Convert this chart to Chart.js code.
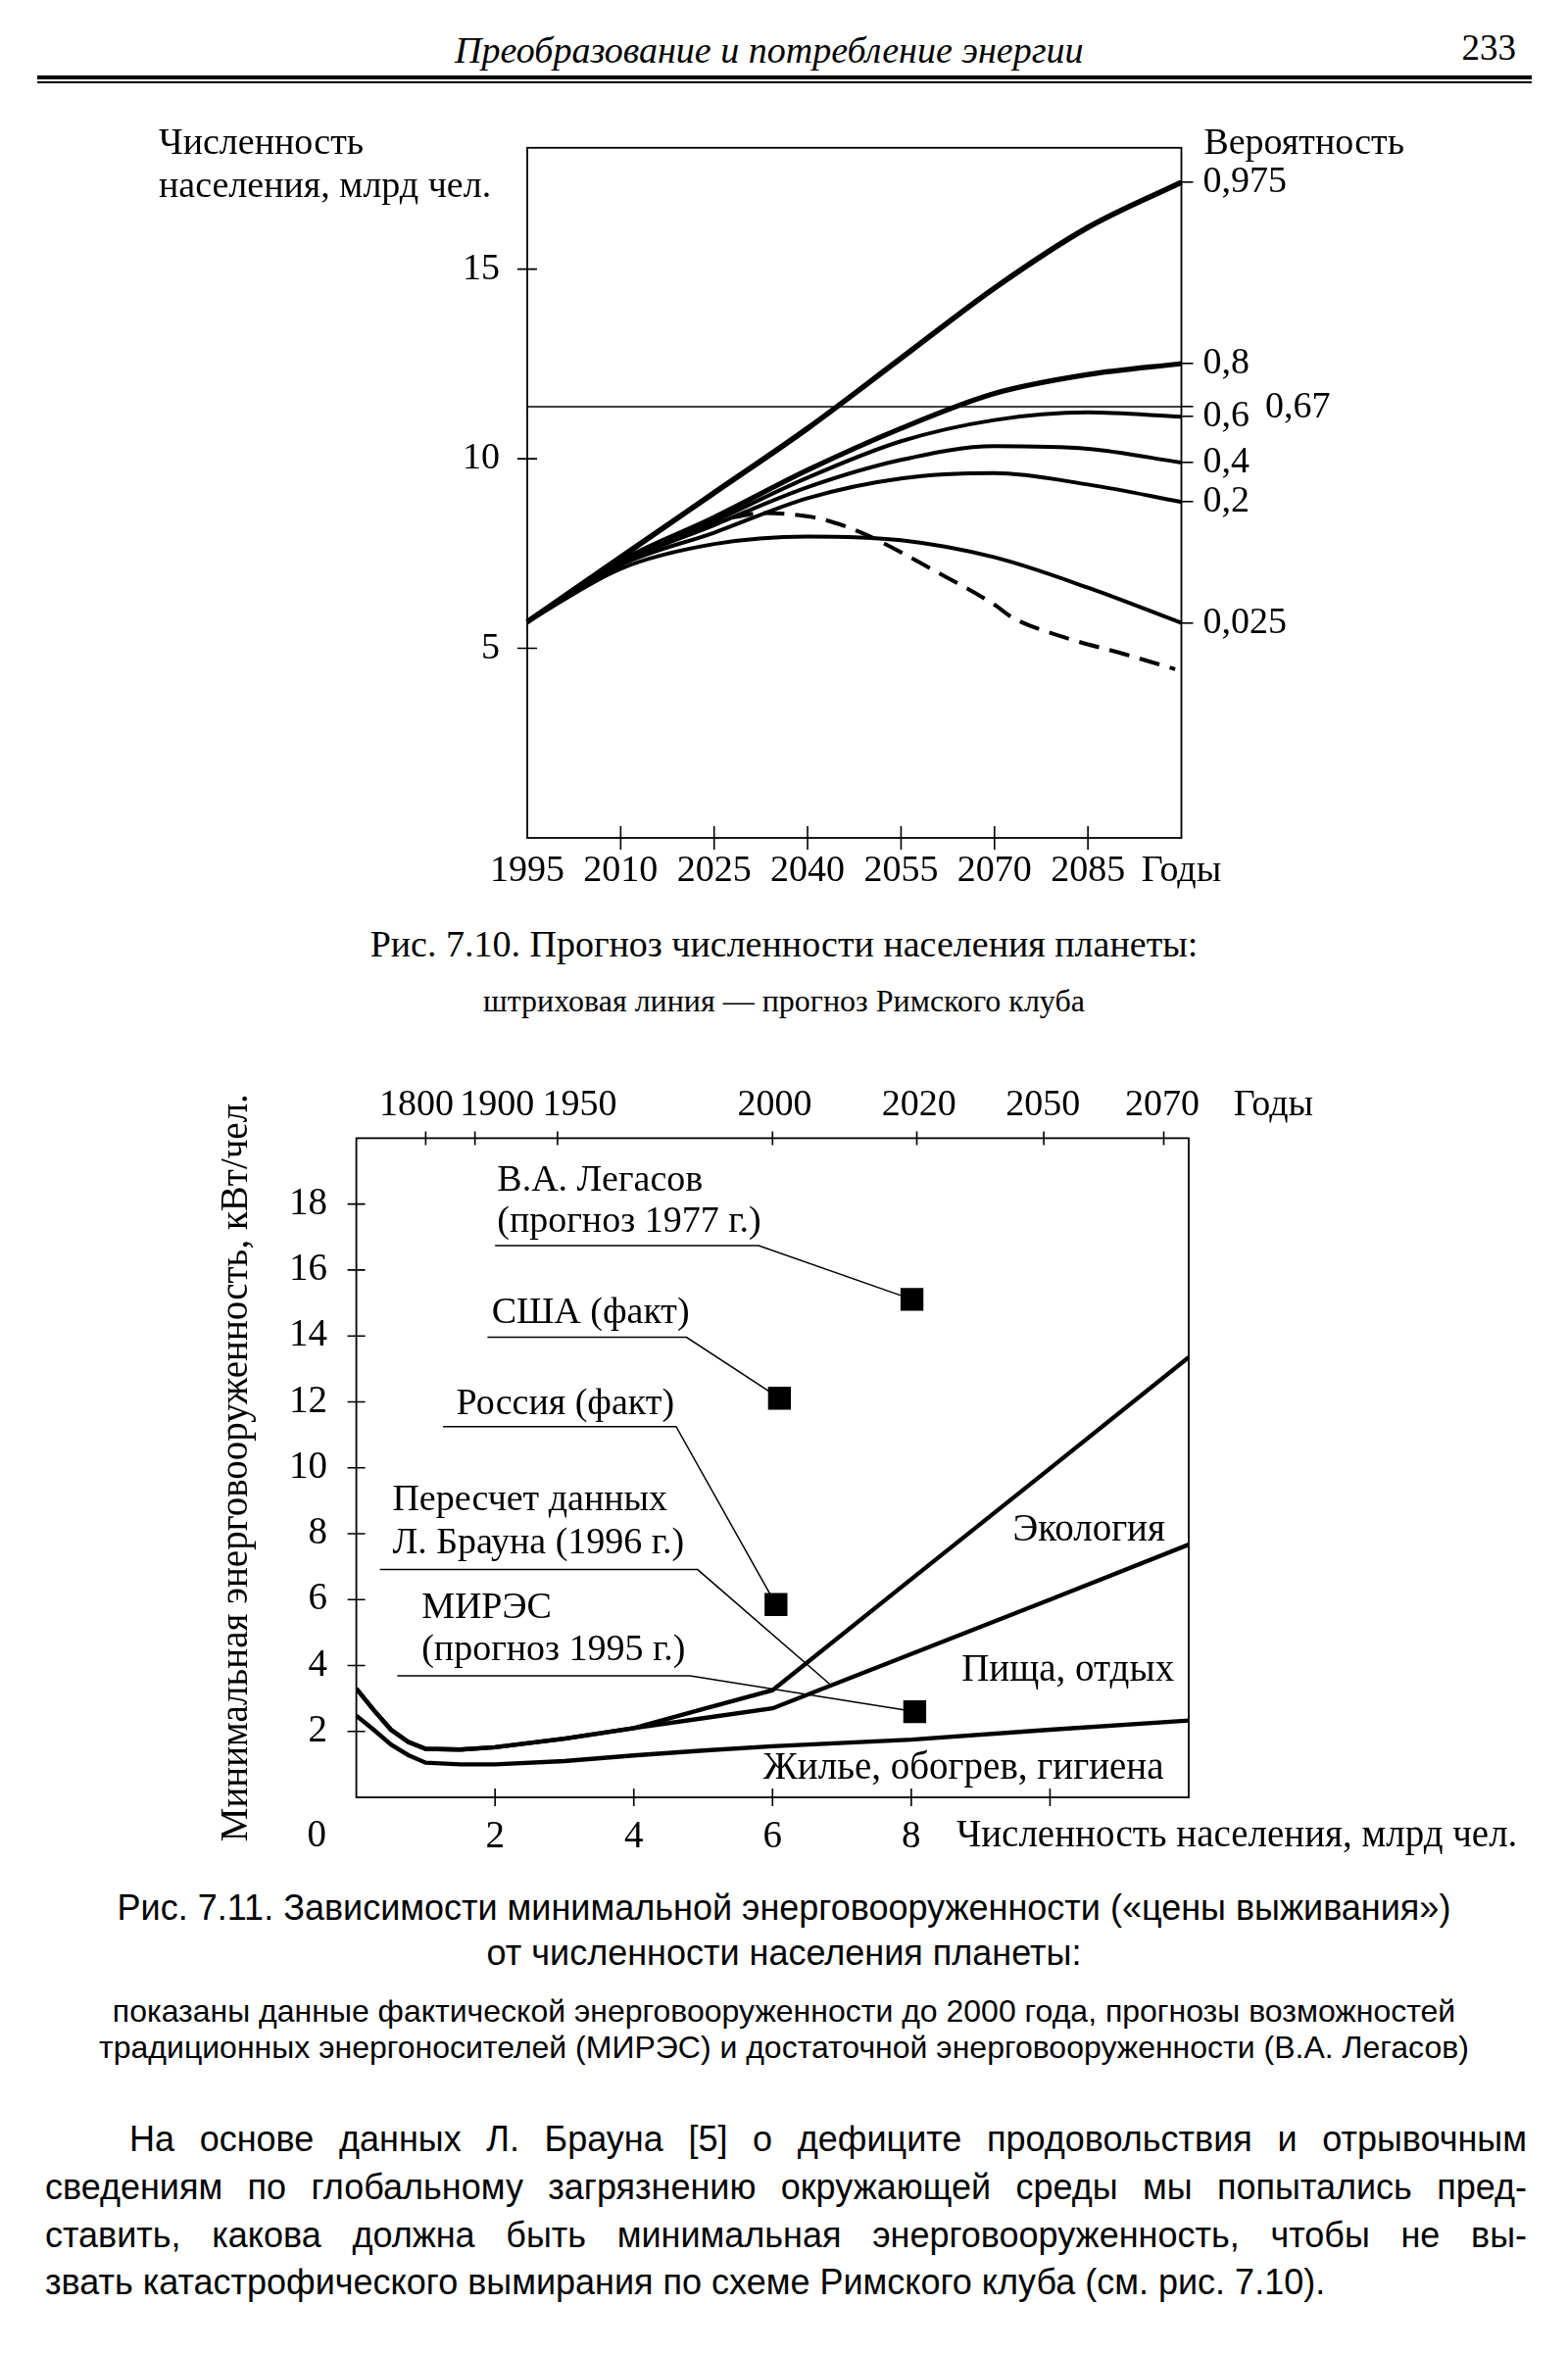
<!DOCTYPE html>
<html lang="ru">
<head>
<meta charset="utf-8">
<title>Рис. 7.10 и 7.11</title>
<script src="https://cdn.jsdelivr.net/npm/chart.js@4.4.1/dist/chart.umd.min.js"></script>
<style>
  html, body { margin: 0; padding: 0; background: #fff; }
  body { width: 1600px; height: 2401px; position: relative; overflow: hidden; color: #000; }
  .t { position: absolute; white-space: nowrap; line-height: 1; }
  .serif { font-family: "Liberation Serif", "Times New Roman", serif; }
  .sans { font-family: "Liberation Sans", Arial, sans-serif; }
  .rule { position: absolute; left: 38px; width: 1525px; background: #000; }
  .box { position: absolute; }
  .just { position: absolute; line-height: 1; text-align: justify; text-align-last: justify; }
</style>
</head>
<body>

<div class="t serif" style="left:464px; top:32px; font-size:38px; font-style:italic;">Преобразование и потребление энергии</div>
<div class="t serif" style="right:53px; top:30px; font-size:37px;">233</div>
<div class="rule" style="top:77px; height:4px;"></div>
<div class="rule" style="top:83px; height:2px;"></div>

<div class="box" style="left:100px; top:100px; width:1400px; height:840px;"><canvas id="popChart"></canvas></div>

<div class="t serif" style="left:0; width:1600px; text-align:center; top:944px; font-size:38px;">Рис. 7.10. Прогноз численности населения планеты:</div>
<div class="t serif" style="left:0; width:1600px; text-align:center; top:1005px; font-size:32px;">штриховая линия — прогноз Римского клуба</div>

<div class="box" style="left:200px; top:1090px; width:1400px; height:820px;"><canvas id="energyChart"></canvas></div>

<div class="t sans" style="left:0; width:1600px; text-align:center; top:1929px; font-size:36px;">Рис. 7.11. Зависимости минимальной энерговооруженности («цены выживания»)</div>
<div class="t sans" style="left:0; width:1600px; text-align:center; top:1975px; font-size:36px;">от численности населения планеты:</div>
<div class="t sans" style="left:0; width:1600px; text-align:center; top:2036px; font-size:32px;">показаны данные фактической энерговооруженности до 2000 года, прогнозы возможностей</div>
<div class="t sans" style="left:0; width:1600px; text-align:center; top:2073px; font-size:32px;">традиционных энергоносителей (МИРЭС) и достаточной энерговооруженности (В.А. Легасов)</div>

<div class="just sans" style="left:132px; width:1426px; top:2165px; font-size:36px;">На основе данных Л. Брауна [5] о дефиците продовольствия и отрывочным</div>
<div class="just sans" style="left:46px; width:1512px; top:2214px; font-size:36px;">сведениям по глобальному загрязнению окружающей среды мы попытались пред-</div>
<div class="just sans" style="left:46px; width:1512px; top:2263px; font-size:36px;">ставить, какова должна быть минимальная энерговооруженность, чтобы не вы-</div>
<div class="t sans" style="left:46px; top:2311px; font-size:36px;">звать катастрофического вымирания по схеме Римского клуба (см. рис. 7.10).</div>

<script>
// Рис. 7.10 — численность населения, млрд чел., по годам
const years = [1995, 2010, 2025, 2040, 2055, 2070, 2085, 2100];
const p975 = [5.7, 7.4, 9.1, 10.8, 12.65, 14.5, 16.1, 17.29];
const p80 = [5.7, 7.3, 8.45, 9.7, 10.8, 11.72, 12.22, 12.51];
const p60 = [5.7, 7.27, 8.35, 9.5, 10.46, 11.02, 11.22, 11.11];
const p40 = [5.7, 7.24, 8.25, 9.25, 9.97, 10.33, 10.26, 9.9];
const p20 = [5.7, 7.2, 8.05, 8.96, 9.48, 9.62, 9.32, 8.86];
const p025 = [5.7, 7.1, 7.75, 7.95, 7.85, 7.4, 6.6, 5.67];
const probLabels = ['0,975', '0,8', '0,6', '0,4', '0,2', '0,025'];

// прогноз Римского клуба (штриховая)
const romeYears = [2028, 2033, 2038, 2042, 2046, 2050, 2060, 2070, 2073, 2081, 2091, 2099];
const romeValues = [8.45, 8.57, 8.52, 8.42, 8.22, 7.95, 7.08, 6.15, 5.8, 5.3, 4.84, 4.45];

// уровень вероятности 0,67
const level067 = 11.37;

// Рис. 7.11 — минимальная энерговооруженность, кВт/чел., от численности населения
const popX = [0, 0.25, 0.5, 0.75, 1, 1.5, 2, 3, 4, 5, 6, 8, 10, 12];
const housing = [2.48, 2.05, 1.6, 1.28, 1.05, 1.0, 1.0, 1.1, 1.27, 1.42, 1.55, 1.75, 2.05, 2.33];
const food = [3.3, 2.65, 2.05, 1.68, 1.47, 1.45, 1.52, 1.78, 2.1, 2.4, 2.7, 4.35, 6.0, 7.67];
const ecology = [3.3, 2.65, 2.05, 1.68, 1.47, 1.45, 1.52, 1.78, 2.1, 2.68, 3.25, 6.62, 9.98, 13.35];

// фактические данные и прогнозы (квадраты)
const pointNames = ['В.А. Легасов', 'США', 'Россия', 'МИРЭС'];
const pointX = [8.01, 6.10, 6.05, 8.05];
const pointY = [15.11, 12.11, 5.85, 2.60];

// верхняя шкала: год и численность населения в этот год
const yearTicks = [1800, 1900, 1950, 2000, 2020, 2050, 2070];
const yearPop = [1.0, 1.71, 2.9, 6.0, 8.08, 9.91, 11.64];

const serif = '"Liberation Serif", "Times New Roman", serif';
Chart.defaults.font.family = serif;
Chart.defaults.font.size = 38;
Chart.defaults.color = '#000';

function pairs(xs, ys) {
    return xs.map((x, i) => ({x: x, y: ys[i]}));
}

// рамка поля графика
const frame = {
    id: 'frame',
    afterDatasetsDraw(chart) {
        const a = chart.chartArea, ctx = chart.ctx;
        ctx.save();
        ctx.strokeStyle = '#000';
        ctx.lineWidth = 1.8;
        ctx.strokeRect(a.left, a.top, a.right - a.left, a.bottom - a.top);
        ctx.restore();
    }
};

// штрихи делений, пересекающие рамку
const crossTicks = {
    id: 'crossTicks',
    afterDraw(chart, args, opts) {
        const a = chart.chartArea, ctx = chart.ctx;
        ctx.save();
        ctx.strokeStyle = '#000';
        ctx.lineWidth = 1.6;
        ctx.beginPath();
        (opts.axes || []).forEach(function (ax) {
            const s = chart.scales[ax.id];
            const every = typeof ax.every === 'number' ? ax.every : 0;
            s.ticks.forEach(function (t) {
                if (every && t.value % every !== 0) return;
                const p = s.getPixelForValue(t.value);
                if (s.isHorizontal()) {
                    if (p < a.left + 2 || p > a.right - 2) return;
                    const y = s.position === 'top' ? a.top : a.bottom;
                    ctx.moveTo(p, y - ax.half);
                    ctx.lineTo(p, y + ax.half);
                } else {
                    if (p > a.bottom - 2 || p < a.top + 2) return;
                    const x = s.position === 'right' ? a.right : a.left;
                    ctx.moveTo(x - ax.half, p);
                    ctx.lineTo(x + ax.half, p);
                }
            });
        });
        ctx.stroke();
        ctx.restore();
    }
};

// подписи и выноски в координатах осей
const notes = {
    id: 'notes',
    beforeDatasetsDraw(chart, args, opts) {
        const ctx = chart.ctx, sx = chart.scales.x, sy = chart.scales.y;
        ctx.save();
        ctx.strokeStyle = '#000';
        ctx.lineWidth = 1.5;
        (opts.callouts || []).forEach(function (c) {
            ctx.beginPath();
            ctx.moveTo(sx.getPixelForValue(c.ux1), sy.getPixelForValue(c.uy));
            ctx.lineTo(sx.getPixelForValue(c.ux2), sy.getPixelForValue(c.uy));
            ctx.lineTo(sx.getPixelForValue(c.target.x), sy.getPixelForValue(c.target.y));
            ctx.stroke();
        });
        ctx.restore();
    },
    afterDraw(chart, args, opts) {
        const ctx = chart.ctx;
        ctx.save();
        ctx.fillStyle = '#000';
        ctx.textBaseline = 'middle';
        const draw = function (text, x, y, align, size) {
            const sx = chart.scales.x, sy = chart.scales.y;
            ctx.font = (size || 38) + 'px ' + serif;
            ctx.textAlign = align || 'left';
            ctx.fillText(text, sx.getPixelForValue(x), sy.getPixelForValue(y));
        };
        (opts.items || []).forEach(function (it) {
            draw(it.text, it.x, it.y, it.align, it.size);
        });
        (opts.callouts || []).forEach(function (c) {
            c.lines.forEach(function (line, i) {
                draw(line, c.tx, c.ty[i], 'left', c.size);
            });
        });
        ctx.restore();
    }
};

// ---------- Рис. 7.10 ----------
const popSeries = [p975, p80, p60, p40, p20, p025];
const popWidths = [5.6, 5.2, 4, 4, 4, 4];
const rightTicks = [p975, p80].map(s => s[s.length - 1])
    .concat([level067])
    .concat([p60, p40, p20, p025].map(s => s[s.length - 1]));
const rightLabels = [probLabels[0], probLabels[1], ''].concat(probLabels.slice(2));

const popDatasets = popSeries.map(function (vals, i) {
    return {
        label: probLabels[i],
        data: pairs(years, vals),
        borderColor: '#000',
        borderWidth: popWidths[i],
        pointRadius: 0,
        cubicInterpolationMode: 'monotone',
        clip: false
    };
});
popDatasets.push({
    label: 'Римский клуб',
    data: pairs(romeYears, romeValues),
    borderColor: '#000',
    borderWidth: 4,
    borderDash: [21, 11],
    pointRadius: 0,
    cubicInterpolationMode: 'monotone',
    clip: false
});
popDatasets.push({
    label: '0,67',
    data: pairs([years[0], years[years.length - 1]], [level067, level067]),
    borderColor: '#000',
    borderWidth: 1.6,
    pointRadius: 0,
    tension: 0
});

new Chart(document.getElementById('popChart'), {
    type: 'line',
    data: {datasets: popDatasets},
    options: {
        responsive: true,
        maintainAspectRatio: false,
        animation: false,
        events: [],
        layout: {padding: {top: 44.4, left: 0, right: 0, bottom: 0}},
        scales: {
            x: {
                type: 'linear', min: 1995, max: 2100,
                afterFit: s => { s.height = 85; },
                grid: {display: false, drawTicks: false},
                border: {display: false},
                ticks: {
                    stepSize: 15, autoSkip: false, maxRotation: 0, padding: 11,
                    callback: v => v === 2100 ? 'Годы' : String(v)
                }
            },
            y: {
                min: 0, max: 18.2,
                afterFit: s => { s.width = 438; },
                grid: {display: false, drawTicks: false},
                border: {display: false},
                ticks: {stepSize: 5, padding: 28, callback: v => (v > 0 && v % 5 === 0) ? String(v) : ''}
            },
            y2: {
                position: 'right', min: 0, max: 18.2,
                afterFit: s => { s.width = 294.5; },
                afterBuildTicks: s => { s.ticks = rightTicks.map(v => ({value: v})); },
                grid: {drawOnChartArea: false, drawTicks: true, tickLength: 12, color: '#000', lineWidth: 1.6},
                border: {display: false},
                ticks: {autoSkip: false, padding: 10, callback: (v, i) => rightLabels[i]}
            }
        },
        plugins: {
            legend: {display: false},
            tooltip: {enabled: false},
            crossTicks: {axes: [{id: 'x', half: 12, every: 0}, {id: 'y', half: 10, every: 5}]},
            notes: {
                items: [
                    {text: 'Численность', x: 1935.85, y: 18.31},
                    {text: 'населения, млрд чел.', x: 1935.85, y: 17.17},
                    {text: 'Вероятность', x: 2103.6, y: 18.31},
                    {text: '0,67', x: 2113.45, y: level067 - 0.03}
                ]
            }
        }
    },
    plugins: [frame, crossTicks, notes]
});

// ---------- Рис. 7.11 ----------
const curveStyle = {borderColor: '#000', borderWidth: 4.4, pointRadius: 0, tension: 0};
const topLabelAt = [0.866, 2.03, 3.22, 6.03, 8.11, 9.9, 11.62];
const topItems = yearTicks.map((yr, i) => ({text: String(yr), x: topLabelAt[i], y: 20.99, align: 'center'}));
topItems.push({text: 'Годы', x: 13.22, y: 20.99, align: 'center'});

new Chart(document.getElementById('energyChart'), {
    type: 'line',
    data: {
        datasets: [
            Object.assign({label: 'Жилье, обогрев, гигиена', data: pairs(popX, housing)}, curveStyle),
            Object.assign({label: 'Пища, отдых', data: pairs(popX, food)}, curveStyle),
            Object.assign({label: 'Экология', data: pairs(popX, ecology)}, curveStyle),
            {
                type: 'scatter',
                label: 'Данные',
                data: pairs(pointX, pointY),
                showLine: false,
                pointStyle: 'rect',
                pointRadius: 16.5,
                backgroundColor: '#000',
                borderColor: '#000',
                borderWidth: 0
            }
        ]
    },
    options: {
        responsive: true,
        maintainAspectRatio: false,
        animation: false,
        events: [],
        layout: {padding: {top: 0, left: 0, right: 387, bottom: 0}},
        scales: {
            x: {
                type: 'linear', min: 0, max: 12,
                afterFit: s => { s.height = 76; },
                grid: {display: false, drawTicks: false},
                border: {display: false},
                ticks: {
                    stepSize: 2, autoSkip: false, maxRotation: 0, padding: 17.2,
                    font: {size: 39},
                    callback: v => (v >= 2 && v <= 8) ? String(v) : ''
                }
            },
            x2: {
                type: 'linear', position: 'top', min: 0, max: 12,
                afterFit: s => { s.height = 71.4; },
                afterBuildTicks: s => { s.ticks = yearPop.map(v => ({value: v})); },
                grid: {display: false, drawTicks: false},
                border: {display: false},
                ticks: {display: false}
            },
            y: {
                min: 0, max: 20,
                afterFit: s => { s.width = 163.6; },
                grid: {display: false, drawTicks: false},
                border: {display: false},
                ticks: {stepSize: 2, padding: 29.6, font: {size: 39}, callback: v => (v === 0 || v === 20) ? '' : String(v)},
                title: {
                    display: true,
                    text: 'Минимальная энерговооруженность, кВт/чел.',
                    font: {size: 39},
                    padding: {top: 18, bottom: 0}
                }
            }
        },
        plugins: {
            legend: {display: false},
            tooltip: {enabled: false},
            crossTicks: {axes: [{id: 'x', half: 9, every: 0}, {id: 'x2', half: 7, every: 0}, {id: 'y', half: 9, every: 0}]},
            notes: {
                items: topItems.concat([
                    {text: '0', x: -0.57, y: -1.19, align: 'center', size: 39},
                    {text: 'Численность населения, млрд чел.', x: 8.65, y: -1.19, size: 39},
                    {text: 'Экология', x: 11.66, y: 8.09, align: 'right', size: 39},
                    {text: 'Пища, отдых', x: 11.79, y: 3.84, align: 'right', size: 39},
                    {text: 'Жилье, обогрев, гигиена', x: 11.64, y: 0.88, align: 'right', size: 39}
                ]),
                callouts: [
                    {lines: ['В.А. Легасов', '(прогноз 1977 г.)'], tx: 2.03, ty: [18.71, 17.45], size: 38,
                        ux1: 2.0, ux2: 5.8, uy: 16.74, target: {x: pointX[0], y: pointY[0]}},
                    {lines: ['США (факт)'], tx: 1.95, ty: [14.69], size: 38,
                        ux1: 1.89, ux2: 4.76, uy: 13.96, target: {x: pointX[1], y: pointY[1]}},
                    {lines: ['Россия (факт)'], tx: 1.44, ty: [11.93], size: 38,
                        ux1: 1.25, ux2: 4.61, uy: 11.25, target: {x: pointX[2], y: pointY[2]}},
                    {lines: ['Пересчет данных', 'Л. Брауна (1996 г.)'], tx: 0.52, ty: [9.0, 7.71], size: 38,
                        ux1: 0.34, ux2: 4.92, uy: 6.91, target: {x: 6.85, y: 3.39}},
                    {lines: ['МИРЭС', '(прогноз 1995 г.)'], tx: 0.94, ty: [5.74, 4.45], size: 38,
                        ux1: 0.59, ux2: 4.81, uy: 3.69, target: {x: pointX[3], y: pointY[3]}}
                ]
            }
        }
    },
    plugins: [frame, crossTicks, notes]
});
</script>
</body>
</html>
